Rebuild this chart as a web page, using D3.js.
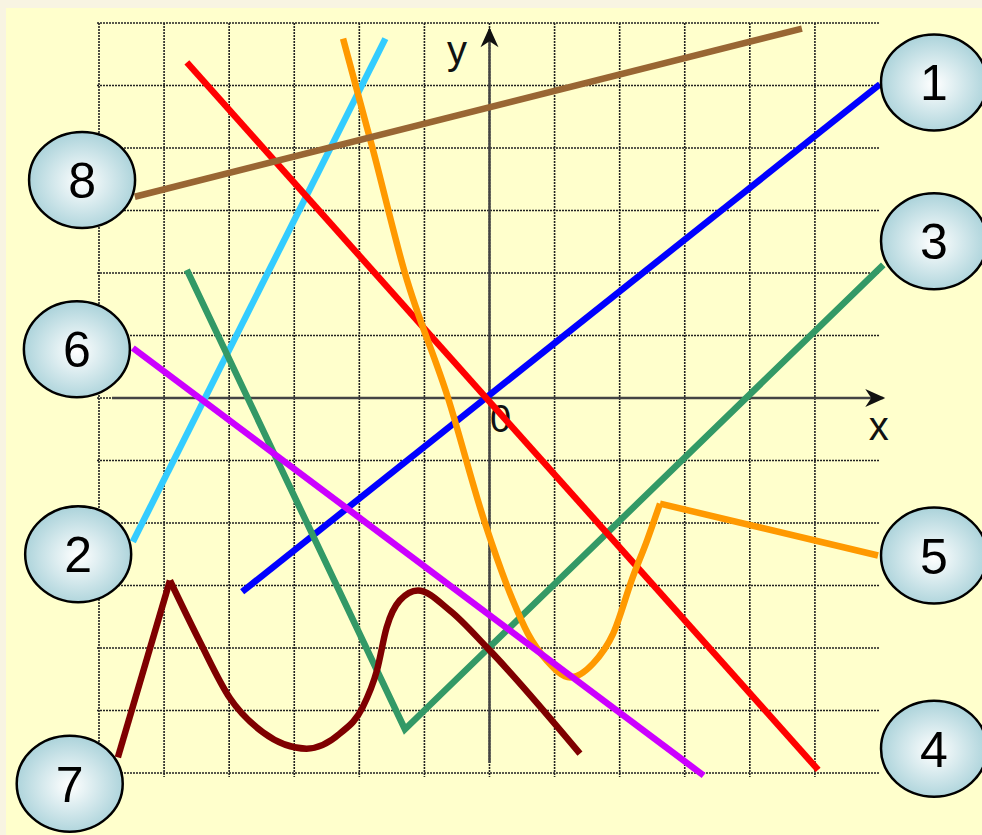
<!DOCTYPE html>
<html>
<head>
<meta charset="utf-8">
<script src="https://cdn.jsdelivr.net/npm/d3@7/dist/d3.min.js"></script>
<style>
	html, body { margin: 0; padding: 0; background: #f8f4e2; }
	svg { display: block; }
</style>
</head>
<body>
<div id="chart"></div>
<script>
// grid ticks (units)
var gridX = d3.range(-6, 6);
var gridY = d3.range(-6, 7);

// lines, [x, y] in grid units
var line1 = [[-3.8, -3.1], [6, 5.02]];
var line2 = [[-5.48, -2.3], [-1.6, 5.75]];
var line3 = [[-4.65, 2.05], [-1.3, -5.3], [6.05, 2.13]];
var line4 = [[-4.65, 5.37], [5.05, -5.95]];
var line5Curve = [[-2.25, 5.75], [-1.79, 3.97], [-1.3, 2.0], [-0.64, 0.01], [-0.07, -2.0],
	[0.36, -3.24], [0.59, -3.77], [0.88, -4.2], [1.24, -4.47], [1.59, -4.25],
	[1.9, -3.77], [2.2, -2.87], [2.42, -2.28], [2.62, -1.69]];
var line5Tail = [[2.62, -1.69], [5.97, -2.52]];
var line6 = [[-5.48, 0.8], [3.29, -6.04]];
var line7Head = [[-5.71, -5.75], [-4.91, -2.92]];
var line7Curve = [[-4.91, -2.92], [-4.45, -3.9], [-3.99, -4.8], [-3.48, -5.35], [-2.81, -5.61],
	[-2.3, -5.37], [-1.95, -4.95], [-1.73, -4.36], [-1.58, -3.67], [-1.38, -3.24],
	[-1.1, -3.08], [-0.61, -3.4], [-0.04, -3.99], [1.39, -5.69]];
var line8 = [[-5.45, 3.22], [4.8, 5.91]];

// number bubbles
var labelNames = ["1", "2", "3", "4", "5", "6", "7", "8"];
var labelX = [6.83, -6.32, 6.83, 6.83, 6.83, -6.34, -6.45, -6.26];
var labelY = [5.05, -2.5, 2.51, -5.61, -2.52, 0.78, -6.17, 3.49];

var width = 982, height = 835;

var svg = d3.select("#chart").append("svg")
	.attr("width", width)
	.attr("height", height);

// bubble gradient
var grad = svg.append("defs").append("radialGradient")
	.attr("id", "bubble")
	.attr("cx", "50%").attr("cy", "52%").attr("r", "55%");
grad.append("stop").attr("offset", "0%").attr("stop-color", "#ffffff");
grad.append("stop").attr("offset", "100%").attr("stop-color", "#a6d0d8");

// background panel
svg.append("rect")
	.attr("x", 6).attr("y", 8)
	.attr("width", width - 6).attr("height", height - 8)
	.attr("fill", "#ffffcc");

var x = d3.scaleLinear().domain([-6, 6]).range([99, 880]);
var y = d3.scaleLinear().domain([-6, 6]).range([773, 23]);

// dotted grid
var grid = svg.append("g")
	.attr("stroke", "#222")
	.attr("stroke-width", 1.6)
	.attr("stroke-dasharray", "2 1");

grid.selectAll(".gv").data(gridX).enter().append("line")
	.attr("x1", d => x(d)).attr("x2", d => x(d))
	.attr("y1", y(6)).attr("y2", y(-6) + 4);

grid.selectAll(".gh").data(gridY).enter().append("line")
	.attr("x1", x(-6) - 2).attr("x2", x(6))
	.attr("y1", d => y(d)).attr("y2", d => y(d));

// axes with arrows
var axisColor = "#444";
svg.append("line")
	.attr("x1", x(-5.8)).attr("x2", x(6.05))
	.attr("y1", y(0)).attr("y2", y(0))
	.attr("stroke", axisColor).attr("stroke-width", 2.5);
svg.append("line")
	.attr("x1", x(0)).attr("x2", x(0))
	.attr("y1", y(-5.84)).attr("y2", y(5.9))
	.attr("stroke", axisColor).attr("stroke-width", 2.5);

svg.append("path")
	.attr("d", "M" + (x(6.05) - 18) + "," + (y(0) - 9) + " L" + (x(6.05) + 2) + "," + y(0) +
		" L" + (x(6.05) - 18) + "," + (y(0) + 9) + " L" + (x(6.05) - 12) + "," + y(0) + "Z")
	.attr("fill", "#111");
svg.append("path")
	.attr("d", "M" + (x(0) - 9) + "," + (y(5.9) + 18) + " L" + x(0) + "," + (y(5.9) - 2) +
		" L" + (x(0) + 9) + "," + (y(5.9) + 18) + " L" + x(0) + "," + (y(5.9) + 12) + "Z")
	.attr("fill", "#111");

svg.append("text").text("y")
	.attr("x", x(-0.5)).attr("y", y(5.35))
	.attr("text-anchor", "middle")
	.attr("font-family", "Liberation Sans, Arial, sans-serif")
	.attr("font-size", 40).attr("fill", "#111");
svg.append("text").text("x")
	.attr("x", x(5.98)).attr("y", y(-0.67))
	.attr("text-anchor", "middle")
	.attr("font-family", "Liberation Sans, Arial, sans-serif")
	.attr("font-size", 40).attr("fill", "#111");
svg.append("text").text("0")
	.attr("x", x(0.17)).attr("y", y(-0.55))
	.attr("text-anchor", "middle")
	.attr("font-family", "Liberation Sans, Arial, sans-serif")
	.attr("font-size", 38).attr("fill", "#111");

// line generators
var straight = d3.line().x(d => x(d[0])).y(d => y(d[1]));
var smooth = d3.line().x(d => x(d[0])).y(d => y(d[1])).curve(d3.curveMonotoneX);

var series = [
	{ data: line2, color: "#33ccff", gen: straight },
	{ data: line1, color: "#0000ff", gen: straight },
	{ data: line3, color: "#339966", gen: straight },
	{ data: line4, color: "#ff0000", gen: straight },
	{ data: line5Curve, color: "#ff9900", gen: smooth },
	{ data: line5Tail, color: "#ff9900", gen: straight },
	{ data: line7Head, color: "#7f0000", gen: straight },
	{ data: line7Curve, color: "#7f0000", gen: smooth },
	{ data: line6, color: "#cc00ff", gen: straight },
	{ data: line8, color: "#996633", gen: straight }
];

svg.append("g").selectAll("path").data(series).enter().append("path")
	.attr("d", d => d.gen(d.data))
	.attr("fill", "none")
	.attr("stroke", d => d.color)
	.attr("stroke-width", 6.5)
	.attr("stroke-linejoin", "miter")
	.attr("stroke-linecap", "butt");

// numbered bubbles
var bubbles = svg.append("g").selectAll("g").data(labelNames).enter().append("g")
	.attr("transform", (d, i) => "translate(" + x(labelX[i]) + "," + y(labelY[i]) + ")");

bubbles.append("ellipse")
	.attr("rx", 53).attr("ry", 48)
	.attr("fill", "url(#bubble)")
	.attr("stroke", "#000")
	.attr("stroke-width", 2.5);

bubbles.append("text").text(d => d)
	.attr("text-anchor", "middle")
	.attr("dy", 18)
	.attr("font-family", "Liberation Sans, Arial, sans-serif")
	.attr("font-size", 50)
	.attr("fill", "#000");
</script>
</body>
</html>
